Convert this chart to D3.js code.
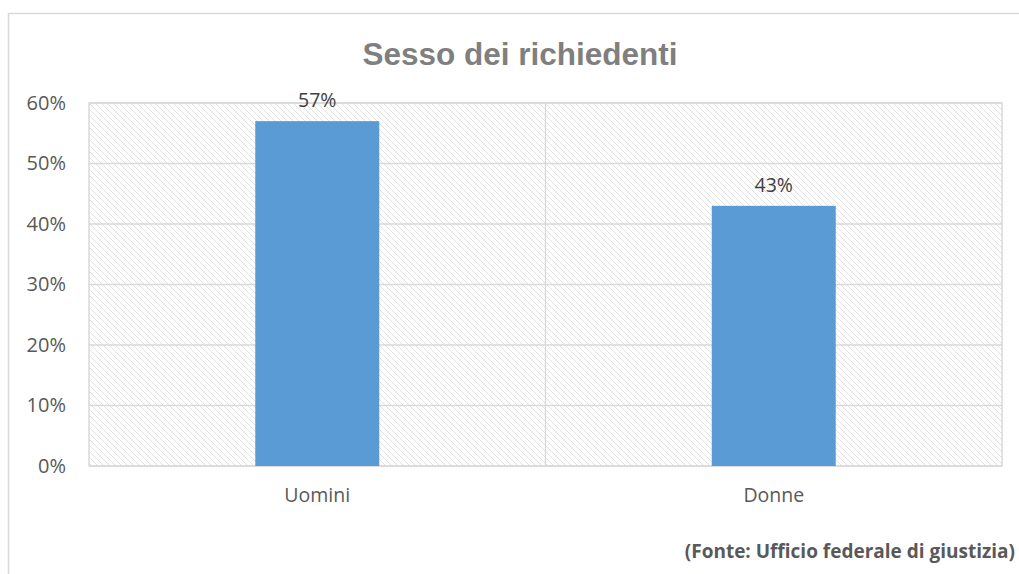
<!DOCTYPE html>
<html>
<head>
<meta charset="utf-8">
<script src="https://cdn.jsdelivr.net/npm/d3@7"></script>
<style>
  body { margin: 0; background: #fff; }
  svg { display: block; }
</style>
</head>
<body>
<div id="chart"></div>
<script>
// data
const categories = ["Uomini", "Donne"];
const shares = [57, 43];
const yTicks = [0, 10, 20, 30, 40, 50, 60];
const titleText = "Sesso dei richiedenti";
const sourceText = "(Fonte: Ufficio federale di giustizia)";

let W = 1019, H = 574;
let margin = {top: 103, right: 17, bottom: 108, left: 89},
    width = W - margin.left - margin.right,
    height = H - margin.top - margin.bottom;

let svg = d3.select("#chart").append("svg")
    .attr("width", W)
    .attr("height", H);

// hatch pattern for plot background
let defs = svg.append("defs");
let pat = defs.append("pattern")
    .attr("id", "hatch")
    .attr("patternUnits", "userSpaceOnUse")
    .attr("width", 6)
    .attr("height", 6);
pat.append("path")
    .attr("d", "M-1,-1 L7,7 M-1,5 L1,7 M5,-1 L7,1")
    .attr("stroke", "#e2e2e2")
    .attr("stroke-width", 1);

// outer chart frame (right and bottom run off the page)
svg.append("rect")
    .attr("x", 8.5).attr("y", 13.5)
    .attr("width", 1030).attr("height", 600)
    .attr("fill", "none")
    .attr("stroke", "#d9d9d9")
    .attr("stroke-width", 1.5);

let g = svg.append("g")
    .attr("transform", "translate(" + margin.left + "," + margin.top + ")");

const x = d3.scaleBand()
    .domain(categories)
    .range([0, width]);

const y = d3.scaleLinear()
    .domain([0, 60])
    .range([height, 0]);

// plot area
g.append("rect")
    .attr("width", width)
    .attr("height", height)
    .attr("fill", "url(#hatch)")
    .attr("stroke", "#d9d9d9")
    .attr("stroke-width", 1.5);

// horizontal grid
g.selectAll(".hgrid")
    .data(yTicks)
    .enter().append("line")
    .attr("x1", 0).attr("x2", width)
    .attr("y1", d => y(d)).attr("y2", d => y(d))
    .attr("stroke", "#d9d9d9")
    .attr("stroke-width", 1.3);

// category separator
g.append("line")
    .attr("x1", x.step()).attr("x2", x.step())
    .attr("y1", 0).attr("y2", height)
    .attr("stroke", "#d9d9d9")
    .attr("stroke-width", 1.3);

// y-axis labels
g.append("g")
    .call(d3.axisLeft(y).tickValues(yTicks).tickSize(0).tickPadding(23).tickFormat(d => d + "%"))
    .call(a => a.select(".domain").remove())
    .selectAll("text")
    .style("font-family", "'Open Sans', sans-serif")
    .style("font-size", "20px")
    .attr("fill", "#595959");

// x-axis labels
g.append("g")
    .attr("transform", "translate(0," + height + ")")
    .call(d3.axisBottom(x).tickSize(0).tickPadding(22))
    .call(a => a.select(".domain").remove())
    .selectAll("text")
    .style("font-family", "'Open Sans', sans-serif")
    .style("font-size", "19.5px")
    .attr("fill", "#595959");

// bars
const barW = 124;
g.selectAll(".bar")
    .data(shares)
    .enter().append("rect")
    .attr("class", "bar")
    .attr("x", (d, i) => x(categories[i]) + x.bandwidth() / 2 - barW / 2)
    .attr("y", d => y(d))
    .attr("width", barW)
    .attr("height", d => height - y(d))
    .attr("fill", "#5b9bd5");

// value labels
g.selectAll(".bar-label")
    .data(shares)
    .enter().append("text")
    .attr("class", "bar-label")
    .attr("x", (d, i) => x(categories[i]) + x.bandwidth() / 2)
    .attr("y", d => y(d) - 14)
    .attr("text-anchor", "middle")
    .style("font-family", "'Open Sans', sans-serif")
    .style("font-size", "19.5px")
    .attr("fill", "#404040")
    .text(d => d + "%");

// title
svg.append("text")
    .attr("x", 520)
    .attr("y", 65)
    .attr("text-anchor", "middle")
    .style("font-family", "'Liberation Sans', Arial, sans-serif")
    .style("font-weight", "bold")
    .style("font-size", "31.5px")
    .attr("fill", "#7f7f7f")
    .text(titleText);

// source note
svg.append("text")
    .attr("x", 1015)
    .attr("y", 558)
    .attr("text-anchor", "end")
    .style("font-family", "'Open Sans', sans-serif")
    .style("font-weight", "bold")
    .style("font-size", "19px")
    .attr("fill", "#595959")
    .text(sourceText);
</script>
</body>
</html>
